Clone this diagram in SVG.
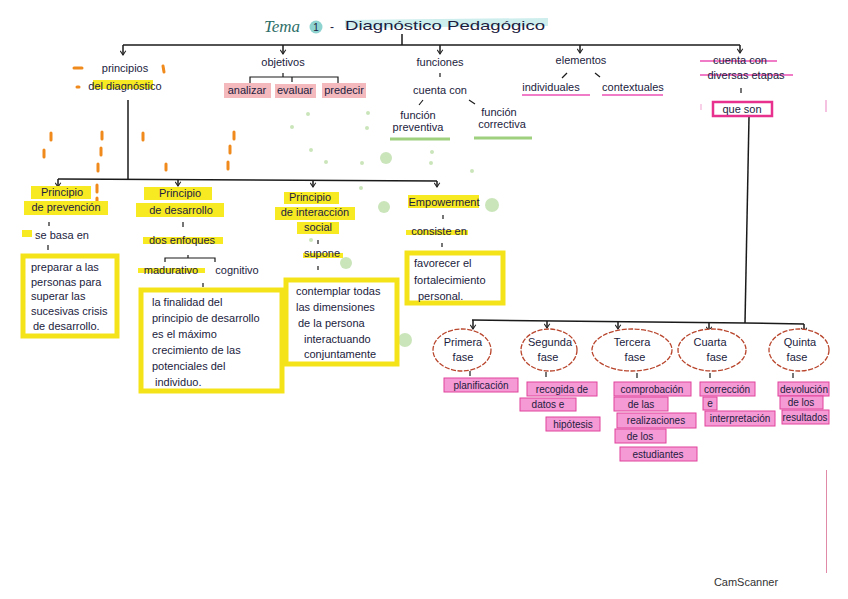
<svg xmlns="http://www.w3.org/2000/svg" width="848" height="599" viewBox="0 0 848 599">
<defs>
<marker id="ar" viewBox="0 0 10 10" refX="9" refY="5" markerWidth="7" markerHeight="7" orient="auto" markerUnits="userSpaceOnUse">
<path d="M3,1 L9,5 L3,9" fill="none" stroke="#222" stroke-width="1.5"/>
</marker>
<style>
text{font-family:"Liberation Sans","DejaVu Sans",sans-serif;fill:#1c1c40;font-size:11px;text-anchor:middle}
.l{text-anchor:start}
.ln{stroke:#1a1a1a;stroke-width:1.5;fill:none}
.tk{stroke:#1a1a1a;stroke-width:1.2}
.yh{fill:#f8ea22}
.yb{fill:#fff;stroke:#f5e31a;stroke-width:5}
.pk{fill:#f59ad5;stroke:#e0439b;stroke-width:1}
.pt{font-size:10px}
.pl{fill:#f3b9bd}
.ov{fill:#fff;stroke:#b8452c;stroke-width:1.3;stroke-dasharray:5 1.5}
.gd{fill:#a8d48c;opacity:.6}
.od{stroke:#f08a1c;stroke-width:3;stroke-linecap:round}
.pu{stroke:#f07cc8;stroke-width:2}
.gu{stroke:#9fd07e;stroke-width:3}
</style>
</defs>
<rect width="848" height="599" fill="#fff"/>
<line x1="826.5" y1="470" x2="826.5" y2="573" stroke="#e08aa8" stroke-width="1"/>

<!-- decorations -->
<g id="deco">
<line class="od" x1="74" y1="68" x2="82" y2="68"/><line class="od" x1="163" y1="66" x2="164" y2="72"/>
<line class="od" x1="77" y1="87" x2="79" y2="87"/>
<line class="od" x1="51" y1="133" x2="51" y2="140"/><line class="od" x1="44" y1="150" x2="44" y2="157"/>
<line class="od" x1="102" y1="132" x2="102" y2="139"/><line class="od" x1="101" y1="148" x2="101" y2="155"/><line class="od" x1="98" y1="164" x2="98" y2="171"/><line class="od" x1="97" y1="185" x2="97" y2="192"/><line class="od" x1="97" y1="198" x2="97" y2="204"/>
<line class="od" x1="143" y1="133" x2="143" y2="140"/><line class="od" x1="166" y1="164" x2="166" y2="170"/>
<line class="od" x1="234" y1="132" x2="234" y2="139"/><line class="od" x1="230" y1="146" x2="230" y2="153"/><line class="od" x1="228" y1="162" x2="228" y2="169"/>
<circle class="gd" cx="386" cy="158" r="6"/><circle class="gd" cx="492" cy="205" r="7"/><circle class="gd" cx="384" cy="207" r="6"/>
<circle class="gd" cx="346" cy="263" r="6"/><circle class="gd" cx="405" cy="340" r="7"/><circle class="gd" cx="311" cy="240" r="2"/>
<circle class="gd" cx="308" cy="114" r="2"/><circle class="gd" cx="292" cy="127" r="2"/><circle class="gd" cx="311" cy="150" r="2"/><circle class="gd" cx="368" cy="113" r="2"/><circle class="gd" cx="367" cy="128" r="2"/><circle class="gd" cx="326" cy="162" r="2"/><circle class="gd" cx="362" cy="163" r="2"/><circle class="gd" cx="432" cy="152" r="2"/><circle class="gd" cx="431" cy="163" r="2"/><circle class="gd" cx="472" cy="171" r="2"/><circle class="gd" cx="361" cy="188" r="2"/>
</g>

<!-- title -->
<g id="title">
<text x="282" y="32" style="font-size:17px;font-style:italic;fill:#2f6f6a;font-family:'Liberation Serif',serif">Tema</text>
<circle cx="316" cy="27" r="6.5" fill="#8fd3d0"/>
<text x="316" y="31" style="font-size:10px">1</text>
<text x="332" y="31" style="font-size:12px">-</text>
<line x1="345" y1="24" x2="548" y2="22" stroke="#cdeeed" stroke-width="8"/>
<text class="l" x="345" y="30" style="font-size:13px" textLength="200" lengthAdjust="spacingAndGlyphs">Diagnóstico Pedagógico</text>
</g>

<!-- connectors -->
<g id="connectors">
<line class="ln" x1="402" y1="34" x2="402" y2="45"/>
<path class="ln" d="M123,45 L740,45"/>
<line class="ln" x1="123" y1="45" x2="123" y2="55" marker-end="url(#ar)"/>
<line class="ln" x1="283" y1="45" x2="283" y2="54" marker-end="url(#ar)"/>
<line class="ln" x1="440" y1="45" x2="440" y2="54" marker-end="url(#ar)"/>
<line class="ln" x1="580" y1="45" x2="580" y2="53" marker-end="url(#ar)"/>
<line class="ln" x1="740" y1="45" x2="740" y2="53" marker-end="url(#ar)"/>
<!-- objetivos bracket -->
<path class="tk" fill="none" d="M250,84 V77 H338 V84 M283,73 V77 M292,77 V82"/>
<!-- funciones -->
<line class="tk" x1="440" y1="73" x2="440" y2="77"/>
<line class="tk" x1="423" y1="100" x2="419" y2="105"/>
<line class="tk" x1="469" y1="100" x2="475" y2="104"/>
<!-- elementos -->
<line class="tk" x1="567" y1="73" x2="562" y2="78"/>
<line class="tk" x1="595" y1="73" x2="600" y2="77"/>
<!-- etapas -->
<line class="tk" x1="741" y1="88" x2="741" y2="93"/>
<line class="ln" x1="749" y1="117" x2="745" y2="323"/>
<!-- principios -->
<line class="ln" x1="128" y1="100" x2="128" y2="179"/>
<path class="ln" d="M58,179 L437,181"/>
<line class="ln" x1="58" y1="179" x2="58" y2="187" marker-end="url(#ar)"/>
<line class="ln" x1="178" y1="180" x2="178" y2="186" marker-end="url(#ar)"/>
<line class="ln" x1="313" y1="180" x2="313" y2="187" marker-end="url(#ar)"/>
<line class="ln" x1="437" y1="181" x2="437" y2="187" marker-end="url(#ar)"/>
<line class="tk" x1="49" y1="222" x2="49" y2="226"/>
<line class="tk" x1="48" y1="245" x2="48" y2="250"/>
<line class="tk" x1="183" y1="222" x2="183" y2="227"/>
<path class="tk" fill="none" d="M165,262 V258 H215 V262 M188,258 V255"/>
<line class="tk" x1="203" y1="283" x2="203" y2="287"/>
<line class="tk" x1="318" y1="240" x2="318" y2="244"/>
<line class="tk" x1="318" y1="266" x2="318" y2="270"/>
<line class="tk" x1="443" y1="215" x2="443" y2="219"/>
<line class="tk" x1="442" y1="243" x2="442" y2="247"/>
<!-- fases -->
<path class="ln" d="M472,320 L745,323 L804,324"/>
<line class="ln" x1="473" y1="320" x2="473" y2="329" marker-end="url(#ar)"/>
<line class="ln" x1="547" y1="321" x2="547" y2="328" marker-end="url(#ar)"/>
<line class="ln" x1="618" y1="322" x2="618" y2="329" marker-end="url(#ar)"/>
<line class="ln" x1="709" y1="323" x2="709" y2="331" marker-end="url(#ar)"/>
<line class="ln" x1="804" y1="324" x2="804" y2="332" marker-end="url(#ar)"/>
<line class="tk" x1="470" y1="371" x2="470" y2="376"/>
<line class="tk" x1="546" y1="372" x2="546" y2="377"/>
<line class="tk" x1="637" y1="373" x2="637" y2="378"/>
<line class="tk" x1="710" y1="373" x2="710" y2="378"/>
<line class="tk" x1="793" y1="373" x2="793" y2="378"/>
</g>

<g id="principios">
<rect class="yh" x="93" y="80" width="60" height="9"/>
<text x="125" y="72">principios</text>
<text x="125" y="90">del diagnóstico</text>
</g>

<g id="objetivos">
<text x="283" y="66">objetivos</text>
<rect class="pl" x="224" y="83" width="47" height="15"/><text x="247" y="94">analizar</text>
<rect class="pl" x="275" y="84" width="41" height="14"/><text x="295" y="94">evaluar</text>
<rect class="pl" x="322" y="83" width="44" height="15"/><text x="344" y="94">predecir</text>
</g>

<g id="funciones">
<text x="440" y="66">funciones</text>
<text x="440" y="94">cuenta con</text>
<text x="418" y="119">función</text><text x="418" y="131">preventiva</text>
<line class="gu" x1="390" y1="139" x2="450" y2="139"/>
<text x="499" y="116">función</text><text x="502" y="128">correctiva</text>
<line class="gu" x1="474" y1="138" x2="532" y2="138"/>
</g>

<g id="elementos">
<text x="581" y="64">elementos</text>
<text x="551" y="91">individuales</text><line class="pu" x1="522" y1="95" x2="590" y2="95"/>
<text x="633" y="91">contextuales</text><line class="pu" x1="602" y1="95" x2="663" y2="95"/>
</g>

<g id="etapas">
<line class="pu" x1="700" y1="61" x2="777" y2="61" stroke-width="3"/>
<line class="pu" x1="700" y1="75" x2="793" y2="75" stroke-width="3"/>
<text x="740" y="64">cuenta con</text>
<text x="746" y="79">diversas etapas</text>
<rect x="713" y="102" width="59" height="14" fill="#fff" stroke="#e8308f" stroke-width="2.5"/>
<text x="742" y="113">que son</text>
<line x1="701" y1="104" x2="701" y2="110" stroke="#f6c2e2" stroke-width="1.5"/>
<line x1="826" y1="100" x2="826" y2="112" stroke="#f6c2e2" stroke-width="2"/>
</g>

<g id="prevencion">
<rect class="yh" x="31" y="186" width="60" height="13"/>
<rect class="yh" x="24" y="201" width="84" height="14"/>
<text x="62" y="196">Principio</text>
<text x="66" y="211">de prevención</text>
<rect class="yh" x="22" y="230" width="10" height="7"/>
<text x="62" y="239">se basa en</text>
<rect class="yb" x="23" y="256" width="94" height="80"/>
<text class="l" x="31" y="271">preparar a las</text>
<text class="l" x="31" y="286">personas para</text>
<text class="l" x="31" y="300">superar las</text>
<text class="l" x="31" y="315">sucesivas crisis</text>
<text class="l" x="33" y="330">de desarrollo.</text>
</g>

<g id="desarrollo">
<rect class="yh" x="144" y="187" width="68" height="13"/>
<rect class="yh" x="136" y="203" width="88" height="14"/>
<text x="180" y="197">Principio</text>
<text x="181" y="214">de desarrollo</text>
<rect class="yh" x="143" y="237" width="80" height="7"/>
<text x="182" y="244">dos enfoques</text>
<rect class="yh" x="138" y="268" width="67" height="5"/>
<text x="171" y="274">madurativo</text>
<text x="237" y="274">cognitivo</text>
<rect class="yb" x="141" y="290" width="141" height="101"/>
<text class="l" x="152" y="306">la finalidad del</text>
<text class="l" x="152" y="322">principio de desarrollo</text>
<text class="l" x="152" y="338">es el máximo</text>
<text class="l" x="152" y="354">crecimiento de las</text>
<text class="l" x="152" y="370">potenciales del</text>
<text class="l" x="155" y="386">individuo.</text>
</g>

<g id="interaccion">
<rect class="yh" x="284" y="192" width="55" height="12"/>
<rect class="yh" x="275" y="207" width="80" height="13"/>
<rect class="yh" x="297" y="222" width="42" height="12"/>
<text x="310" y="201">Principio</text>
<text x="315" y="216">de interacción</text>
<text x="318" y="231">social</text>
<rect class="yh" x="303" y="253" width="40" height="5"/>
<text x="322" y="257">supone</text>
<rect class="yb" x="286" y="280" width="111" height="84"/>
<text class="l" x="296" y="295">contemplar todas</text>
<text class="l" x="296" y="311">las dimensiones</text>
<text class="l" x="298" y="327">de la persona</text>
<text class="l" x="304" y="343">interactuando</text>
<text class="l" x="304" y="358">conjuntamente</text>
</g>

<g id="empowerment">
<rect class="yh" x="408" y="195" width="71" height="13"/>
<text x="444" y="206">Empowerment</text>
<rect class="yh" x="406" y="230" width="62" height="5"/>
<text x="439" y="235">consiste en</text>
<rect class="yb" x="407" y="253" width="96" height="50"/>
<text class="l" x="414" y="267">favorecer el</text>
<text class="l" x="414" y="284">fortalecimiento</text>
<text class="l" x="418" y="300">personal.</text>
</g>

<g id="fase1">
<ellipse class="ov" cx="462" cy="350" rx="29" ry="21"/>
<text x="463" y="346">Primera</text><text x="463" y="361">fase</text>
<rect class="pk" x="444" y="378" width="74" height="14"/><text class="pt" x="481" y="389">planificación</text>
</g>
<g id="fase2">
<ellipse class="ov" cx="549" cy="350" rx="28" ry="21"/>
<text x="550" y="346">Segunda</text><text x="548" y="361">fase</text>
<rect class="pk" x="527" y="382" width="70" height="14"/><text class="pt" x="562" y="393">recogida de</text>
<rect class="pk" x="520" y="398" width="56" height="13"/><text class="pt" x="548" y="408">datos e</text>
<rect class="pk" x="546" y="417" width="54" height="14"/><text class="pt" x="573" y="428">hipótesis</text>
</g>
<g id="fase3">
<ellipse class="ov" cx="632" cy="350" rx="40" ry="21"/>
<text x="632" y="346">Tercera</text><text x="635" y="361">fase</text>
<rect class="pk" x="614" y="382" width="77" height="14"/><text class="pt" x="652" y="393">comprobación</text>
<rect class="pk" x="614" y="397" width="54" height="14"/><text class="pt" x="641" y="408">de las</text>
<rect class="pk" x="617" y="413" width="79" height="15"/><text class="pt" x="656" y="424">realizaciones</text>
<rect class="pk" x="615" y="429" width="51" height="14"/><text class="pt" x="640" y="440">de los</text>
<rect class="pk" x="620" y="447" width="77" height="14"/><text class="pt" x="658" y="458">estudiantes</text>
</g>
<g id="fase4">
<ellipse class="ov" cx="712" cy="350" rx="34" ry="21"/>
<text x="710" y="346">Cuarta</text><text x="717" y="361">fase</text>
<rect class="pk" x="700" y="382" width="55" height="14"/><text class="pt" x="727" y="393">corrección</text>
<rect class="pk" x="703" y="397" width="14" height="13"/><text class="pt" x="710" y="407">e</text>
<rect class="pk" x="705" y="411" width="70" height="15"/><text class="pt" x="740" y="422">interpretación</text>
</g>
<g id="fase5">
<ellipse class="ov" cx="799" cy="350" rx="30" ry="21"/>
<text x="800" y="346">Quinta</text><text x="797" y="361">fase</text>
<rect class="pk" x="778" y="382" width="51" height="14"/><text class="pt" x="804" y="393" textLength="48" lengthAdjust="spacingAndGlyphs">devolución</text>
<rect class="pk" x="780" y="396" width="43" height="13"/><text class="pt" x="801" y="406">de los</text>
<rect class="pk" x="782" y="410" width="47" height="14"/><text class="pt" x="805" y="421" textLength="45" lengthAdjust="spacingAndGlyphs">resultados</text>
</g>

<text x="746" y="586" style="font-size:11px;fill:#333">CamScanner</text>
</svg>
